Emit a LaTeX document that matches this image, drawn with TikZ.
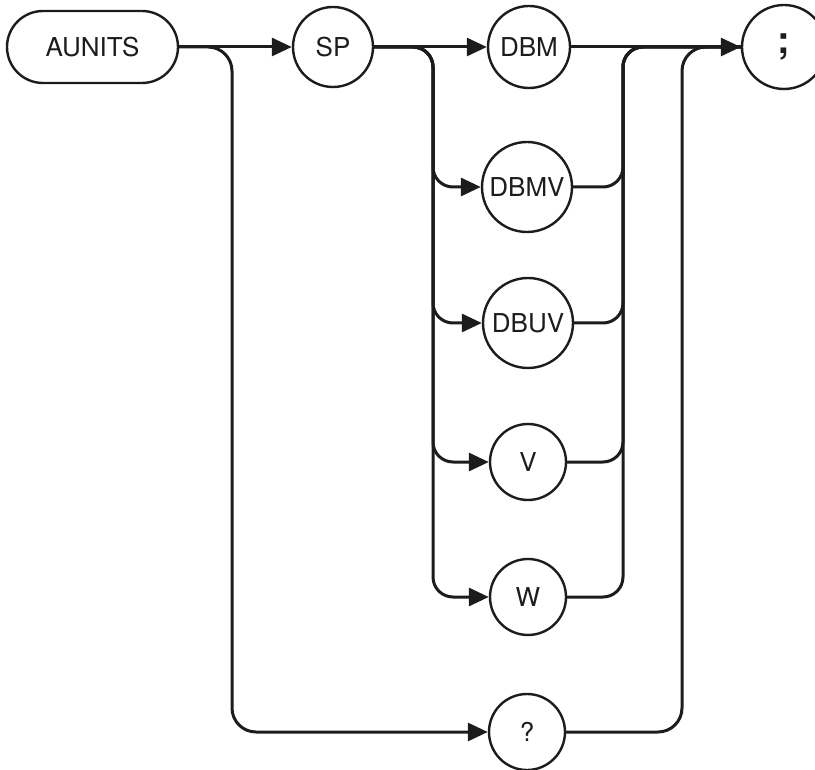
\documentclass[tikz,border=0pt]{standalone}
\usepackage{fontspec}
\setmainfont{TeX Gyre Heros}
\usetikzlibrary{arrows.meta}
\definecolor{ink}{HTML}{1C1C1C}
\tikzset{
  kw/.style={draw=ink, line width=2.4pt, circle, inner sep=0pt, text=ink,
    font=\fontsize{26}{30}\selectfont},
  cmd/.style={draw=ink, line width=2.4pt, rectangle, rounded corners=36pt,
    minimum width=171pt, minimum height=72pt, inner sep=0pt, text=ink,
    font=\fontsize{26}{30}\selectfont},
  wire/.style={draw=ink, line width=3pt},
  conn/.style={wire, -{Triangle[length=20pt,width=18pt]}},
}
\begin{document}
\begin{tikzpicture}[x=1pt,y=-1pt]
\useasboundingbox (0,0) rectangle (815,770);
\clip (0,0) rectangle (815,770);
% nodes
\node[cmd] (aunits) at (92.5,47) {AUNITS};
\node[kw, minimum size=80pt] (sp) at (333,47) {SP};
\node[kw, minimum size=82pt] (dbm) at (529,47) {DBM};
\node[kw, minimum size=90pt] (dbmv) at (527,187) {DBMV};
\node[kw, minimum size=90pt] (dbuv) at (528,323) {DBUV};
\node[kw, minimum size=76pt] (v) at (528,462) {V};
\node[kw, minimum size=76pt] (w) at (528,597) {W};
\node[kw, minimum size=76pt] (q) at (527,732) {?};
\node[kw, minimum size=84pt, font=\fontsize{38}{40}\bfseries] (semi) at (784,47) {;};
% rails
\coordinate (railQ) at (232,47);
\coordinate (railL) at (433,47);
\coordinate (railR) at (623,47);
\coordinate (railRet) at (682,47);
% main line
\draw[conn] (aunits.east) -- (sp.west);
\draw[conn] (sp.east) -- (dbm.west);
\draw[conn] (dbm.east) -- (semi.west);
% query branch
\draw[conn, rounded corners=24pt] (aunits.east) -- (railQ) |- (q.west);
\draw[wire, rounded corners=24pt] (q.east) -| (railRet) -- (semi.west);
% unit options
\foreach \n in {dbmv,dbuv,v,w}{
  \draw[conn, rounded corners=20pt] (sp.east) -- (railL) |- (\n.west);
  \draw[wire, rounded corners=20pt] (\n.east) -| (railR) -- (semi.west);
}
\end{tikzpicture}
\end{document}
